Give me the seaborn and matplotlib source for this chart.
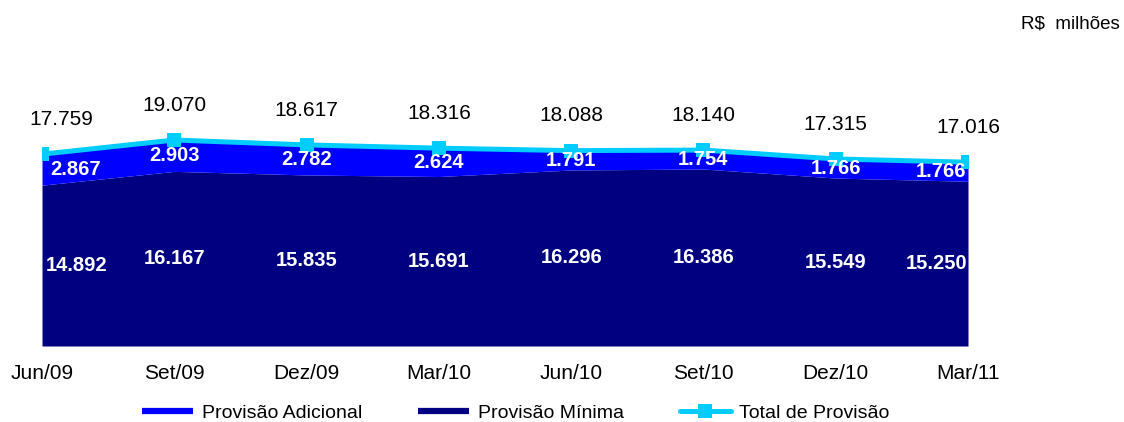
import matplotlib
matplotlib.use("Agg")
import matplotlib.pyplot as plt
from matplotlib.lines import Line2D
import seaborn as sns
import pandas as pd
import numpy as np

periods = ["Jun/09", "Set/09", "Dez/09", "Mar/10", "Jun/10", "Set/10", "Dez/10", "Mar/11"]
minima = [14.892, 16.167, 15.835, 15.691, 16.296, 16.386, 15.549, 15.250]
adicional = [2.867, 2.903, 2.782, 2.624, 1.791, 1.754, 1.766, 1.766]
total = [17.759, 19.070, 18.617, 18.316, 18.088, 18.140, 17.315, 17.016]

def fmt(v):
    return f"{v:.3f}"

sns.set_theme(style="white")
plt.rcParams['font.family'] = ['Liberation Sans', 'DejaVu Sans']

C_ADIC = "#0000FF"
C_MIN = "#000080"
C_TOT = "#00CCFF"

fig = plt.figure(figsize=(11.24, 4.22), dpi=100)
W, H = 1124, 422
ax = fig.add_axes([42 / W, (H - 346) / H, 926 / W, 306 / H])

x = np.arange(len(periods))
df = pd.DataFrame({"x": x, "total": total})

ax.stackplot(x, minima, adicional, colors=[C_MIN, C_ADIC], linewidth=0)
sns.lineplot(data=df, x="x", y="total", ax=ax, color=C_TOT, linewidth=3.6,
             marker="s", markersize=9.5, markeredgewidth=0, zorder=5)

ax.set_xlim(0, len(periods) - 1)
ax.set_ylim(0, 28.33)
for s in ax.spines.values():
    s.set_visible(False)
ax.set_yticks([])
ax.set_xticks(x)
ax.set_xticklabels(periods, fontsize=15, color="black")
ax.tick_params(axis="x", length=0, pad=13)
ax.set_xlabel("")
ax.set_ylabel("")

n = len(periods)
for i in range(n):
    dx_t = 14 if i == 0 else 0
    ax.annotate(fmt(total[i]), (x[i], total[i]), xytext=(dx_t, 25),
                textcoords="offset points", ha="center", va="center",
                fontsize=15, color="black")
    if i == 0:
        ha, dx = "left", 6
    elif i == n - 1:
        ha, dx = "right", -1
    else:
        ha, dx = "center", 0
    ax.annotate(fmt(adicional[i]), (x[i], minima[i] + adicional[i] / 2),
                xytext=(dx, 0), textcoords="offset points", ha=ha, va="center",
                fontsize=14.5, fontweight="bold", color="white", zorder=6)
    ax.annotate(fmt(minima[i]), (x[i], minima[i] / 2),
                xytext=(dx / 2, 0), textcoords="offset points", ha=ha, va="center",
                fontsize=14.5, fontweight="bold", color="white", zorder=6)

fig.text(1120 / W, 1 - 24 / H, "R$  milhões", ha="right", va="center",
         fontsize=13.5, color="black")

handles = [
    Line2D([0], [0], color=C_ADIC, lw=4.5, solid_capstyle="butt"),
    Line2D([0], [0], color=C_MIN, lw=4.5, solid_capstyle="butt"),
    Line2D([0], [0], color=C_TOT, lw=3.6, marker="s", markersize=9.5, markeredgewidth=0),
]
labels = ["Provisão Adicional", "Provisão Mínima", "Total de Provisão"]
leg = fig.legend(handles, labels, loc="center", bbox_to_anchor=(516 / W, 1 - 413 / H),
                 ncol=3, frameon=False, fontsize=14, handlelength=2.6,
                 handletextpad=0.45, columnspacing=2.9, borderpad=0)
for t in leg.get_texts():
    t.set_color("black")

fig.savefig("out.png", dpi=100)
